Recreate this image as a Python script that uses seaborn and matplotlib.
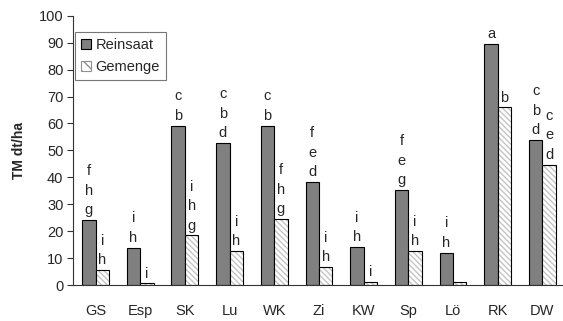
import matplotlib
matplotlib.use("Agg")
import matplotlib.pyplot as plt
import seaborn as sns
import pandas as pd
from matplotlib.patches import Rectangle
from matplotlib.ticker import FixedLocator, MultipleLocator

categories = ["GS", "Esp", "SK", "Lu", "WK", "Zi", "KW", "Sp", "Lö", "RK", "DW"]
reinsaat = [24.1, 13.9, 59.2, 52.7, 59.2, 38.3, 14.1, 35.3, 12.0, 89.6, 53.9]
gemenge = [5.6, 0.6, 18.4, 12.6, 24.6, 6.7, 1.1, 12.7, 1.1, 66.0, 44.7]
letters_reinsaat = ["f\nh\ng", "i\nh", "c\nb", "c\nb\nd", "c\nb", "f\ne\nd",
                    "i\nh", "f\ne\ng", "i\nh", "a", "c\nb\nd"]
letters_gemenge = ["i\nh", "i", "i\nh\ng", "i\nh", "f\nh\ng", "i\nh",
                   "i", "i\nh", "", "b", "c\ne\nd"]
series = ["Reinsaat", "Gemenge"]

df = pd.DataFrame({
    "cat": categories * 2,
    "val": reinsaat + gemenge,
    "series": [series[0]] * len(categories) + [series[1]] * len(categories),
})

sns.set_style("white")
plt.rcParams["font.family"] = ["Liberation Sans", "DejaVu Sans"]
plt.rcParams["hatch.linewidth"] = 1.0

FS = 10.5

fig = plt.figure(figsize=(5.63, 3.21), dpi=100)
ax = fig.add_axes([0.130, 0.112, 0.873, 0.839])

sns.barplot(data=df, x="cat", y="val", hue="series", order=categories,
            hue_order=series, palette=["#808080", "white"], width=0.6,
            gap=0, edgecolor="black", linewidth=0.8, saturation=1,
            errorbar=None, ax=ax, legend=False)

n = len(categories)
bars = list(ax.patches)
rein_bars = bars[:n]
gem_bars = bars[n:2 * n]

for p in gem_bars:
    p.set_facecolor("white")
    p.set_edgecolor("#c4c4c4")
    p.set_hatch("\\\\\\\\\\\\")
    p.set_linewidth(0)
    outline = Rectangle((p.get_x(), p.get_y()), p.get_width(), p.get_height(),
                        fill=False, edgecolor="black", linewidth=0.8, zorder=p.get_zorder() + 0.1)
    ax.add_patch(outline)

for p, lab in zip(rein_bars, letters_reinsaat):
    if lab:
        ax.annotate(lab, (p.get_x() + p.get_width() / 2, p.get_height()),
                    xytext=(0, 2), textcoords="offset points", ha="center",
                    va="bottom", fontsize=FS, linespacing=1.5)
for p, lab in zip(gem_bars, letters_gemenge):
    if lab:
        ax.annotate(lab, (p.get_x() + p.get_width() / 2, p.get_height()),
                    xytext=(0, 2), textcoords="offset points", ha="center",
                    va="bottom", fontsize=FS, linespacing=1.5)

ax.set_xlim(-0.5, n - 0.5)
ax.set_ylim(0, 100)
ax.yaxis.set_major_locator(MultipleLocator(10))
ax.set_xlabel("")
ax.set_ylabel("TM dt/ha", fontsize=10, fontweight="bold", labelpad=9)

ax.xaxis.set_minor_locator(FixedLocator([i + 0.5 for i in range(-1, n)]))
ax.tick_params(axis="x", which="major", length=0, pad=14, labelsize=FS)
ax.tick_params(axis="x", which="minor", length=4, width=0.8, direction="out", color="#333333")
ax.tick_params(axis="y", which="major", length=4, width=0.8, direction="out", pad=3,
               labelsize=FS, left=True, color="#333333")

for s in ["top", "right"]:
    ax.spines[s].set_visible(False)
for s in ["left", "bottom"]:
    ax.spines[s].set_color("#333333")
    ax.spines[s].set_linewidth(0.8)

handles = [Rectangle((0, 0), 1, 1, facecolor="#808080", edgecolor="black", linewidth=0.8),
           Rectangle((0, 0), 1, 1, facecolor="white", edgecolor="#909090", hatch="\\\\\\", linewidth=0.8)]
leg = ax.legend(handles, series, loc="upper left", bbox_to_anchor=(0.004, 0.94),
                frameon=True, fancybox=False, fontsize=FS, handlelength=0.7,
                handleheight=0.7, handletextpad=0.3, borderpad=0.4,
                labelspacing=0.55, borderaxespad=0)
leg.get_frame().set_edgecolor("#555555")
leg.get_frame().set_linewidth(0.8)

fig.savefig("out.png", dpi=100)
